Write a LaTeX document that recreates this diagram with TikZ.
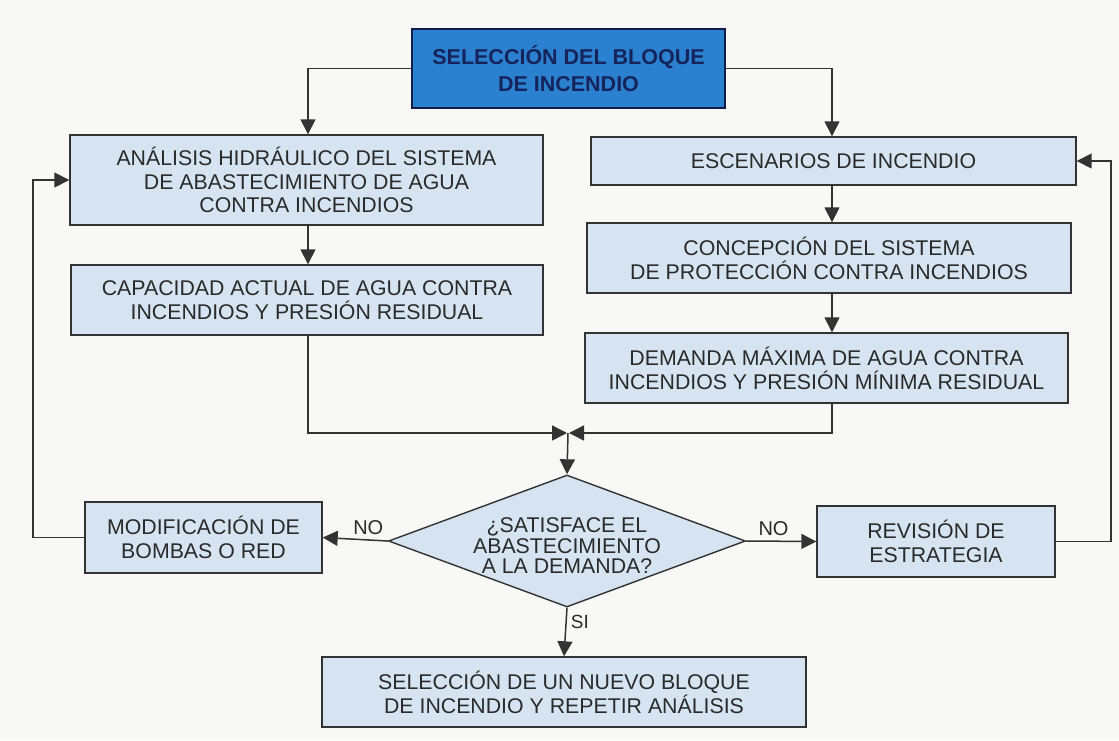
\documentclass[tikz,border=0pt]{standalone}
\usepackage{fontspec}
\setmainfont{Liberation Sans}
\usetikzlibrary{arrows.meta,shapes.geometric}
\definecolor{bgc}{HTML}{F8F8F6}
\definecolor{boxfill}{HTML}{D5E4F0}
\definecolor{topfill}{HTML}{2C80D0}
\definecolor{navy}{HTML}{15245A}
\definecolor{ink}{HTML}{2A2A2A}
\definecolor{linec}{HTML}{333333}
\begin{document}
\begin{tikzpicture}[x=1pt,y=-1pt,
  box/.style={draw=linec,line width=1.4pt,fill=boxfill,rectangle,inner sep=0pt,align=center,
    text=ink,font=\fontsize{21.3}{23.8}\selectfont},
  topbox/.style={draw=navy!80!black,line width=1.4pt,fill=topfill,rectangle,inner sep=0pt,align=center,
    text=navy,font=\fontsize{21.5}{27}\selectfont\bfseries},
  conn/.style={draw=linec,line width=1.5pt},
  arr/.style={conn,-{Triangle[length=15pt,width=15pt]}},
  lbl/.style={text=ink,font=\fontsize{20}{22}\selectfont,inner sep=0pt}]
\useasboundingbox (0,0) rectangle (1119,740);
\fill[bgc] (0,0) rectangle (1119,740);

\node[topbox,minimum width=313,minimum height=79] (top) at (568.5,68.5) {SELECCIÓN DEL BLOQUE\\DE INCENDIO};

\node[box,minimum width=473,minimum height=90] (A) at (306.5,180) {ANÁLISIS HIDRÁULICO DEL SISTEMA\\DE ABASTECIMIENTO DE AGUA\\CONTRA INCENDIOS};
\node[box,minimum width=472,minimum height=70] (B) at (307,300) {CAPACIDAD ACTUAL DE AGUA CONTRA\\INCENDIOS Y PRESIÓN RESIDUAL};

\node[box,minimum width=485,minimum height=48] (E) at (833.5,161) {ESCENARIOS DE INCENDIO};
\node[box,minimum width=484,minimum height=70] (C) at (829,258) {CONCEPCIÓN DEL SISTEMA\\DE PROTECCIÓN CONTRA INCENDIOS};
\node[box,minimum width=483,minimum height=70] (D) at (826.5,368) {DEMANDA MÁXIMA DE AGUA CONTRA\\INCENDIOS Y PRESIÓN MÍNIMA RESIDUAL};

\node[draw=linec,line width=1.4pt,fill=boxfill,diamond,inner sep=0pt,minimum width=357,minimum height=132,
  label={[align=center,text=ink,font=\fontsize{21.3}{20.5}\selectfont,yshift=-5pt]center:¿SATISFACE EL\\ABASTECIMIENTO\\A LA DEMANDA?}] (dia) at (567,541) {};

\node[box,minimum width=237,minimum height=71] (mod) at (203.5,537.5) {MODIFICACIÓN DE\\BOMBAS O RED};
\node[box,minimum width=238,minimum height=71] (rev) at (936,541.5) {REVISIÓN DE\\ESTRATEGIA};

\node[box,minimum width=484,minimum height=70] (fin) at (564,692) {SELECCIÓN DE UN NUEVO BLOQUE\\DE INCENDIO Y REPETIR ANÁLISIS};

\coordinate (colL) at (308,0);
\coordinate (colR) at (832,0);
\coordinate (mL) at (567,433);
\coordinate (mR) at (569,433);
\coordinate (m) at (568,433);
\coordinate (lx) at (33,0);
\coordinate (rx) at (1111,0);

% top box connectors
\draw[arr] (top.west) -| (colL |- A.north);
\draw[arr] (top.east) -| (colR |- E.north);

% left column
\draw[arr] (colL |- A.south) -- (colL |- B.north);
\draw[arr] (colL |- B.south) |- (mL);

% right column
\draw[arr] (colR |- E.south) -- (colR |- C.north);
\draw[arr] (colR |- C.south) -- (colR |- D.north);
\draw[arr] (colR |- D.south) |- (mR);

% merge to decision
\draw[arr] (m) -- (dia.north);

% decision outputs
\draw[arr] (dia.west) -- (mod.east) node[lbl,pos=0.3,above=5pt] (no1) {NO};
\draw[arr] (dia.east) -- (rev.west) node[lbl,pos=0.39,above=5pt] (no2) {NO};
\draw[arr] (dia.south) -- (fin.north) node[lbl,pos=0.3,right=4pt,font=\fontsize{19}{21}\selectfont] (si) {SI};

% feedback loops
\draw[arr] (mod.west) -- (lx |- mod.west) |- (A.west);
\draw[arr] (rev.east) -- (rx |- rev.east) |- (E.east);
\end{tikzpicture}
\end{document}
